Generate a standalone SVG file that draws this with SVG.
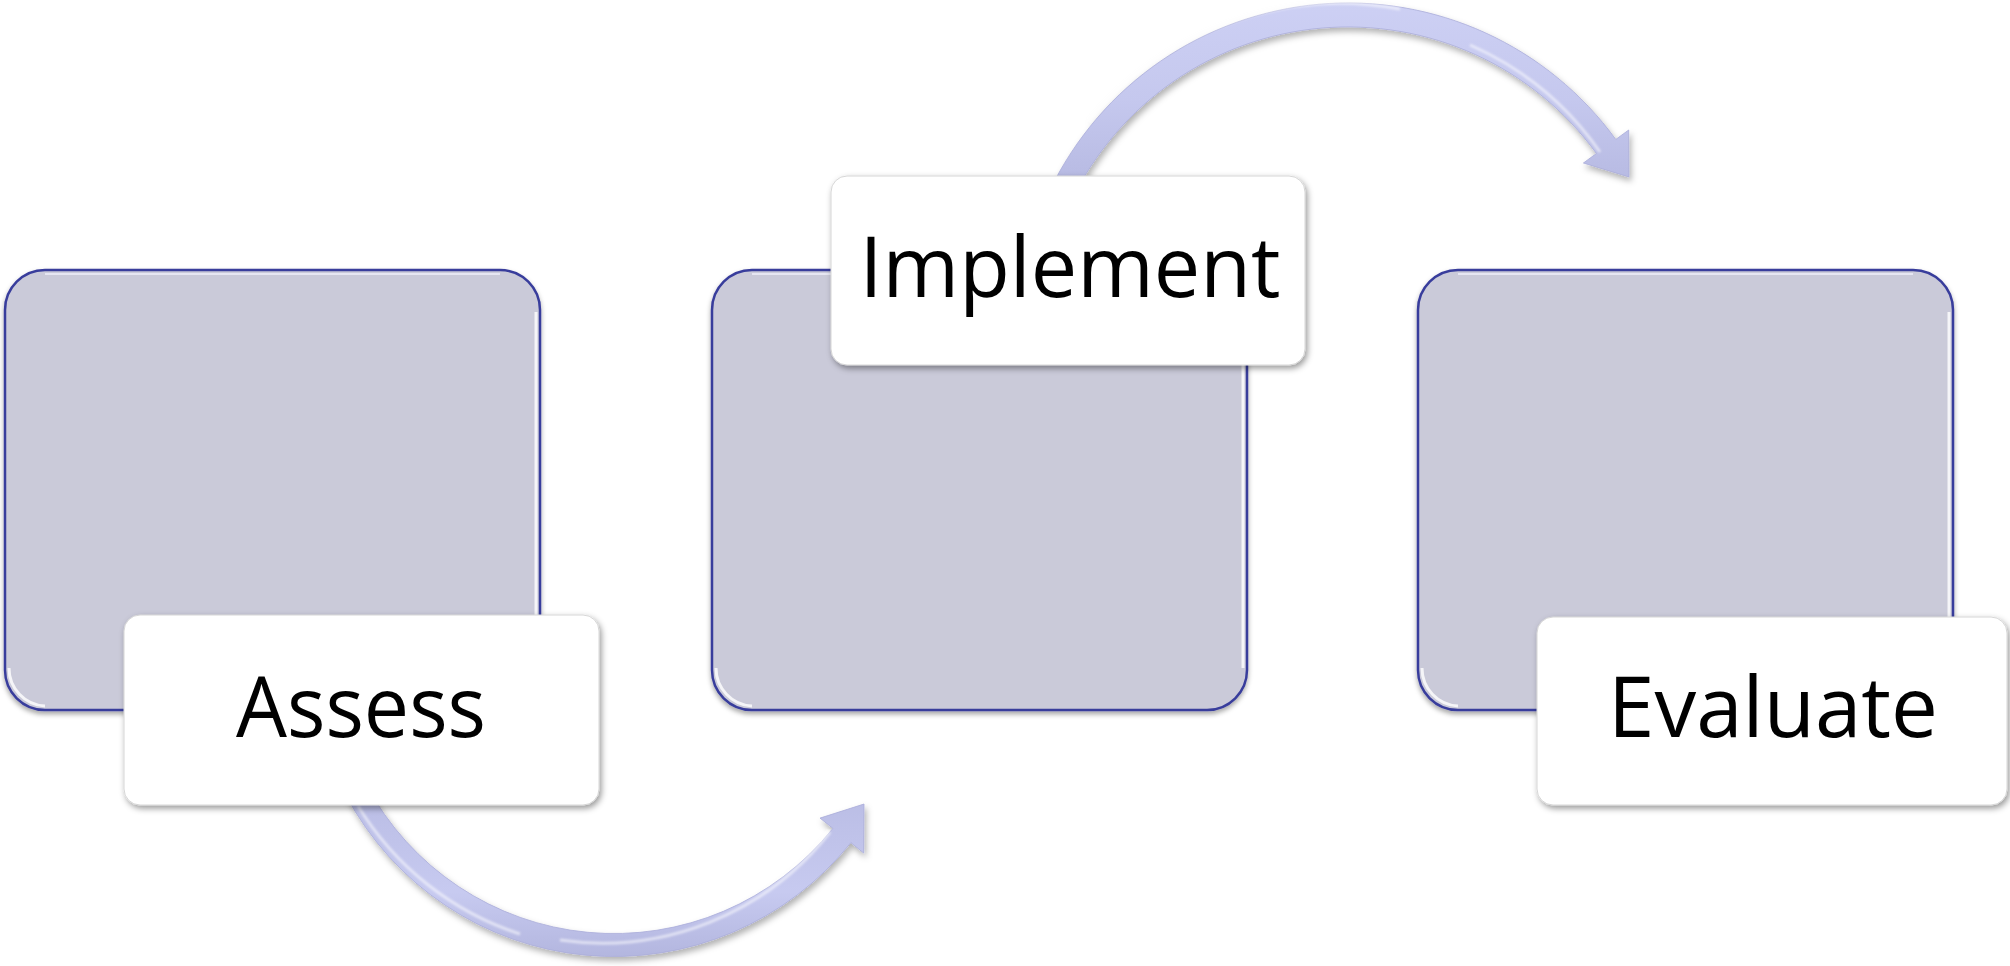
<svg xmlns="http://www.w3.org/2000/svg" width="2010" height="966" viewBox="0 0 2010 966">
  <defs>
    <style>
      .panel { fill: #cacad9; stroke: #393d9c; stroke-width: 2.5; }
      .panel-hi { fill: none; stroke: #ffffff; stroke-width: 3; stroke-opacity: 0.8; }
      .panel-edge { fill: none; stroke: #e6e6f2; stroke-width: 2; }
      .label { fill: #ffffff; stroke: #d6d6d6; stroke-width: 1; }
      .label-text { font-family: "Open Sans", "Noto Sans", "Liberation Sans", sans-serif; font-size: 84px; fill: #000000; text-anchor: middle; }
      .arrow-hi { fill: none; stroke: #ffffff; stroke-width: 3; stroke-opacity: 0.55; filter: url(#soft); }
      .arrow-edge { stroke: #a9acd9; stroke-width: 0.8; }
    </style>
    <filter id="panelShadow" x="-5%" y="-5%" width="110%" height="115%">
      <feDropShadow dx="0" dy="3" stdDeviation="2.5" flood-color="#000" flood-opacity="0.35"/>
    </filter>
    <filter id="labelShadow" x="-5%" y="-5%" width="115%" height="120%">
      <feDropShadow dx="2" dy="3" stdDeviation="3" flood-color="#000" flood-opacity="0.4"/>
    </filter>
    <filter id="arrowShadow" x="-10%" y="-10%" width="120%" height="130%">
      <feDropShadow dx="2" dy="4" stdDeviation="3" flood-color="#000" flood-opacity="0.3"/>
    </filter>
    <filter id="soft" x="-5%" y="-5%" width="110%" height="110%">
      <feGaussianBlur stdDeviation="0.8"/>
    </filter>
    <linearGradient id="arrowFillBottom" gradientUnits="userSpaceOnUse" x1="0" y1="790" x2="0" y2="960">
      <stop offset="0" stop-color="#b9bce4"/>
      <stop offset="0.6" stop-color="#c7caf0"/>
      <stop offset="1" stop-color="#b2b5de"/>
    </linearGradient>
    <linearGradient id="arrowFillTop" gradientUnits="userSpaceOnUse" x1="0" y1="0" x2="0" y2="200">
      <stop offset="0" stop-color="#cdd0f4"/>
      <stop offset="0.5" stop-color="#c5c8ee"/>
      <stop offset="1" stop-color="#b4b7e0"/>
    </linearGradient>
  </defs>

  <rect width="2010" height="966" fill="#ffffff"/>

  <!-- curved connectors, drawn first so the labels cover their tails -->
  <g id="connectors">
    <g id="arrow-assess-implement" filter="url(#arrowShadow)">
      <path class="arrow-edge" fill="url(#arrowFillBottom)"
            d="M 346 795.5 A 303.5 303.5 0 0 0 850.9 842.7 L 863.7 853.1 L 864 804 L 820 818.1 L 832.9 828.4 A 280.5 280.5 0 0 1 366.3 784.7 Z"/>
      <path class="arrow-hi" d="M 358 806 A 298 298 0 0 0 520 934"/>
      <path class="arrow-hi" d="M 560 940 A 290 290 0 0 0 830 832"/>
    </g>
    <g id="arrow-implement-evaluate" filter="url(#arrowShadow)">
      <path class="arrow-edge" fill="url(#arrowFillTop)"
            d="M 1050.5 188.9 A 331 331 0 0 1 1615.8 139.4 L 1628.7 130 L 1629 177 L 1583.4 163 L 1596.4 153.5 A 307 307 0 0 0 1072.1 199.4 Z"/>
      <path class="arrow-hi" d="M 1090 120 A 326 326 0 0 1 1400 9"/>
      <path class="arrow-hi" d="M 1470 45 A 311 311 0 0 1 1600 152"/>
    </g>
  </g>

  <!-- step 1 -->
  <g id="node-assess">
    <rect class="panel" x="5" y="270" width="535" height="440" rx="40" filter="url(#panelShadow)"/>
    <path class="panel-edge" d="M 45 274 L 500 274"/>
    <path class="panel-hi" d="M 536 312 L 536 668"/>
    <path class="panel-hi" d="M 9 668 A 38 38 0 0 0 45 706"/>
    <rect class="label" x="124" y="615" width="475" height="190" rx="16" filter="url(#labelShadow)"/>
    <text class="label-text" x="361" y="737" textLength="250" lengthAdjust="spacingAndGlyphs">Assess</text>
  </g>

  <!-- step 2 -->
  <g id="node-implement">
    <rect class="panel" x="712" y="270" width="535" height="440" rx="40" filter="url(#panelShadow)"/>
    <path class="panel-edge" d="M 752 274 L 1207 274"/>
    <path class="panel-hi" d="M 1243 312 L 1243 668"/>
    <path class="panel-hi" d="M 716 668 A 38 38 0 0 0 752 706"/>
    <rect class="label" x="831" y="176" width="474" height="189" rx="16" filter="url(#labelShadow)"/>
    <text class="label-text" x="1070" y="297" textLength="421" lengthAdjust="spacingAndGlyphs">Implement</text>
  </g>

  <!-- step 3 -->
  <g id="node-evaluate">
    <rect class="panel" x="1418" y="270" width="535" height="440" rx="40" filter="url(#panelShadow)"/>
    <path class="panel-edge" d="M 1458 274 L 1913 274"/>
    <path class="panel-hi" d="M 1949 312 L 1949 668"/>
    <path class="panel-hi" d="M 1422 668 A 38 38 0 0 0 1458 706"/>
    <rect class="label" x="1537" y="617" width="470" height="188" rx="16" filter="url(#labelShadow)"/>
    <text class="label-text" x="1773" y="737" textLength="330" lengthAdjust="spacingAndGlyphs">Evaluate</text>
  </g>
</svg>
